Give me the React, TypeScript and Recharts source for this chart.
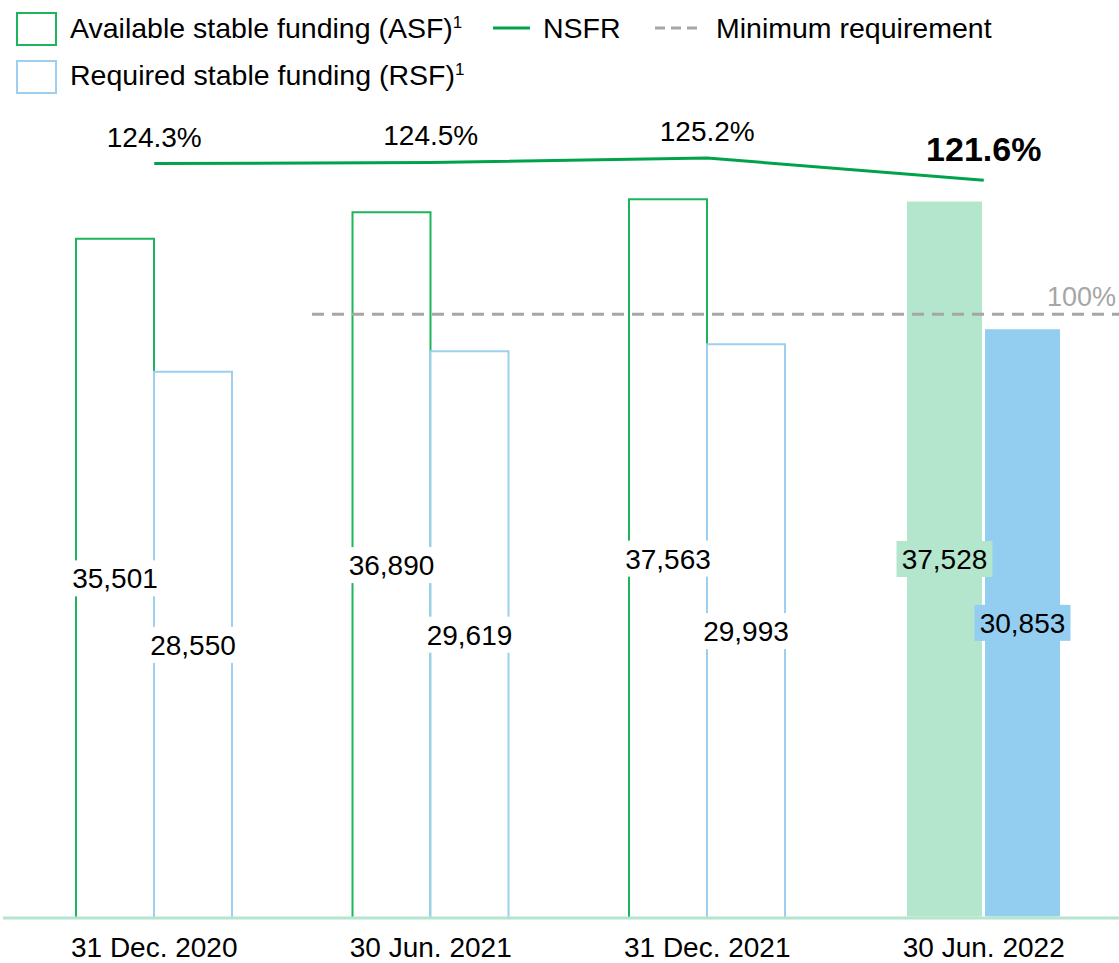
import React from "react";
import {
  ComposedChart,
  Bar,
  Line,
  Cell,
  XAxis,
  YAxis,
  LabelList,
  ReferenceLine,
} from "recharts";

const categories = ["31 Dec. 2020", "30 Jun. 2021", "31 Dec. 2021", "30 Jun. 2022"];
const asfValues = [35501, 36890, 37563, 37528];
const rsfValues = [28550, 29619, 29993, 30853];
const nsfrValues = [124.3, 124.5, 125.2, 121.6];
const minRequirement = 100;

const data = categories.map((category, i) => ({
  category,
  asf: asfValues[i],
  rsf: rsfValues[i],
  nsfr: nsfrValues[i],
}));

const FONT = "'Liberation Sans', Arial, sans-serif";
const GREEN = "#1cb55c";
const DARK_GREEN = "#00a34b";
const BLUE = "#9ccff0";
const ASF_FILL = "#b3e6cc";
const RSF_FILL = "#93cdf0";
const GREY = "#a6a6a6";
const LAST = categories.length - 1;

const barLabel = (fill: string) => (props: any) => {
  const { x, y, width, height, value, index } = props;
  const cx = x + width / 2;
  const cy = y + height / 2;
  const bg = index === LAST ? fill : "#ffffff";
  const w = index === LAST ? 96 : 90;
  return (
    <g>
      <rect x={cx - w / 2} y={cy - 18} width={w} height={36} fill={bg} />
      <text x={cx} y={cy} dy="0.36em" textAnchor="middle" fontSize={28} fill="#000">
        {Number(value).toLocaleString("en-US")}
      </text>
    </g>
  );
};

const nsfrLabel = (props: any) => {
  const { x, y, value, index } = props;
  const last = index === LAST;
  return (
    <text
      x={x}
      y={y - (last ? 32 : 27)}
      dy="0.36em"
      textAnchor="middle"
      fontSize={last ? 34 : 28}
      fontWeight={last ? "bold" : "normal"}
      fill="#000"
    >
      {value.toFixed(1)}%
    </text>
  );
};

// dashed minimum line only starts part-way into the plot
const minLine = (props: any) => {
  const { x1, y1, x2 } = props;
  const left = Math.min(x1, x2);
  const right = Math.min(Math.max(x1, x2), 1119);
  return (
    <g>
      <line
        x1={left + 309}
        y1={y1}
        x2={right}
        y2={y1}
        stroke={GREY}
        strokeWidth={3}
        strokeDasharray="12 8"
      />
      <text x={right - 3} y={y1 - 8} textAnchor="end" fontSize={27} fill={GREY}>
        {minRequirement}%
      </text>
    </g>
  );
};

function LegendBlock() {
  return (
    <svg
      width={1119}
      height={110}
      style={{ position: "absolute", left: 0, top: 0, fontFamily: FONT }}
    >
      <rect x={17} y={13} width={39} height={32} fill="#fff" stroke={GREEN} strokeWidth={2} />
      <text x={70} y={38} fontSize={28.5}>
        Available stable funding (ASF)
        <tspan fontSize={17} dy={-10}>1</tspan>
      </text>
      <line x1={493} y1={28} x2={530} y2={28} stroke={DARK_GREEN} strokeWidth={3} />
      <text x={543} y={38} fontSize={28.5}>NSFR</text>
      <line x1={655} y1={28} x2={701} y2={28} stroke={GREY} strokeWidth={3} strokeDasharray="10 6" />
      <text x={716} y={38} fontSize={28.5}>Minimum requirement</text>
      <rect x={17} y={61} width={39} height={32} fill="#fff" stroke={BLUE} strokeWidth={2} />
      <text x={70} y={85} fontSize={28.5}>
        Required stable funding (RSF)
        <tspan fontSize={17} dy={-10}>1</tspan>
      </text>
    </svg>
  );
}

export default function App() {
  return (
    <div
      style={{
        position: "absolute",
        left: 0,
        top: 0,
        width: 1119,
        height: 963,
        overflow: "hidden",
        fontFamily: FONT,
        background: "#fff",
      }}
    >
      <ComposedChart
        width={1119}
        height={963}
        data={data}
        barGap={0}
        margin={{ top: 57, right: -3, left: 3, bottom: 0 }}
        style={{ fontFamily: FONT }}
      >
        <XAxis
          dataKey="category"
          interval={0}
          height={45}
          padding={{ left: 13, right: 0 }}
          axisLine={{ stroke: ASF_FILL, strokeWidth: 3 }}
          tickLine={false}
          tickMargin={13}
          tick={{ fill: "#000", fontSize: 28 }}
        />
        <YAxis yAxisId="l" domain={[0, 45000]} hide />
        <YAxis yAxisId="r" orientation="right" domain={[2.6, 141.5]} hide />
        <Bar yAxisId="l" dataKey="asf" barSize={78} isAnimationActive={false}>
          {data.map((d, i) => (
            <Cell
              key={d.category}
              fill={i === LAST ? ASF_FILL : "#fff"}
              stroke={i === LAST ? "#fff" : GREEN}
              strokeWidth={i === LAST ? 3 : 2}
            />
          ))}
          <LabelList dataKey="asf" content={barLabel(ASF_FILL)} />
        </Bar>
        <Bar yAxisId="l" dataKey="rsf" barSize={78} isAnimationActive={false}>
          {data.map((d, i) => (
            <Cell
              key={d.category}
              fill={i === LAST ? RSF_FILL : "#fff"}
              stroke={i === LAST ? "#fff" : BLUE}
              strokeWidth={i === LAST ? 3 : 2}
            />
          ))}
          <LabelList dataKey="rsf" content={barLabel(RSF_FILL)} />
        </Bar>
        <ReferenceLine yAxisId="r" y={minRequirement} shape={minLine} />
        <Line
          yAxisId="r"
          dataKey="nsfr"
          type="linear"
          stroke={DARK_GREEN}
          strokeWidth={3}
          dot={false}
          isAnimationActive={false}
        >
          <LabelList dataKey="nsfr" content={nsfrLabel} />
        </Line>
      </ComposedChart>
      <LegendBlock />
    </div>
  );
}
